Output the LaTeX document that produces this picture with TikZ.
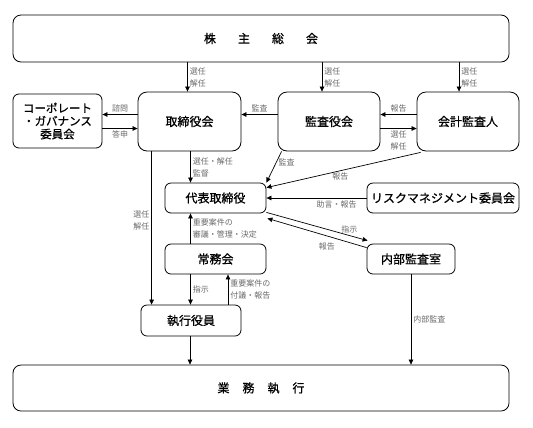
\documentclass[tikz,border=0pt]{standalone}
\usepackage{fontspec}
\usetikzlibrary{arrows.meta,positioning}
\newfontfamily\jpFont{Noto Sans CJK JP}
\newfontfamily\jpBoxFont{Noto Sans CJK JP}[FakeBold=0.8]
\definecolor{labelColor}{RGB}{105,105,105}
\tikzstyle{chart} = [x=1bp, y=-1bp]
\tikzstyle{boxStyle} = [draw, line width=0.8bp, rounded corners=6bp, inner sep=0pt, font=\jpBoxFont\fontsize{12bp}{15bp}\selectfont]
\tikzstyle{wideBox} = [boxStyle, minimum width=496bp, rounded corners=8bp]
\tikzstyle{largeBox} = [boxStyle, minimum width=102bp, minimum height=59bp, rounded corners=9bp]
\tikzstyle{smallBox} = [boxStyle, minimum height=30bp]
\tikzstyle{arrowLine} = [line width=0.7bp, -{Triangle[length=5bp,width=4.5bp]}]
\tikzstyle{labelText} = [text=labelColor, inner sep=2bp, align=left, font=\jpFont\fontsize{8bp}{12bp}\selectfont]
\newcommand{\wideGap}{\hspace{22bp}}
\newcommand{\narrowGap}{\hspace{13bp}}

\begin{document}
\begin{tikzpicture}[chart]
\useasboundingbox (0,0) rectangle (533,427);
\node [wideBox, minimum height=47bp] (shareholders) at (261,38.5) {株\wideGap 主\wideGap 総\wideGap 会};
\node [boxStyle, minimum width=89bp, minimum height=54bp, align=center, font=\jpBoxFont\fontsize{11.5bp}{13bp}\selectfont] (corpGov) at (57.5,121) {コーポレート\\・ガバナンス\\委員会};
\node [largeBox, minimum width=103bp] (board) at (189.5,121.5) {取締役会};
\node [largeBox] (auditBoard) at (329,121.5) {監査役会};
\node [largeBox] (accountant) at (468,121.5) {会計監査人};
\node [smallBox, minimum width=101bp] (president) at (215.5,198) {代表取締役};
\node [smallBox, minimum width=152bp] (riskComm) at (443,198) {リスクマネジメント委員会};
\node [smallBox, minimum width=101bp] (managingBoard) at (215.5,259) {常務会};
\node [smallBox, minimum width=88bp] (internalAudit) at (411,259) {内部監査室};
\node [smallBox, minimum width=100bp, minimum height=31bp] (officers) at (191,320.5) {執行役員};
\node [wideBox, minimum height=46bp] (operations) at (261,388) {業\narrowGap 務\narrowGap 執\narrowGap 行};

\draw [arrowLine] ([xshift=-2bp]board.north |- shareholders.south) -- node [labelText, right] {選任\\解任} ([xshift=-2bp]board.north);
\draw [arrowLine] ([xshift=-7bp]auditBoard.north |- shareholders.south) -- node [labelText, right] {選任\\解任} ([xshift=-7bp]auditBoard.north);
\draw [arrowLine] ([xshift=-9bp]accountant.north |- shareholders.south) -- node [labelText, right] {選任\\解任} ([xshift=-9bp]accountant.north);

\draw [arrowLine] ([yshift=7bp]board.west) -- node [labelText, above] {諮問} ([yshift=7bp]board.west -| corpGov.east);
\draw [arrowLine] ([yshift=-7bp]board.west -| corpGov.east) -- node [labelText, below] {答申} ([yshift=-7bp]board.west);
\draw [arrowLine] ([yshift=7bp]auditBoard.west) -- node [labelText, above] {監査} ([yshift=7bp]auditBoard.west -| board.east);
\draw [arrowLine] ([yshift=7bp]accountant.west) -- node [labelText, above] {報告} ([yshift=7bp]accountant.west -| auditBoard.east);
\draw [arrowLine] ([yshift=-7bp]auditBoard.east) -- node [labelText, below] {選任\\解任} ([yshift=-7bp]auditBoard.east -| accountant.west);

\draw [arrowLine] ([xshift=-25bp]president.north |- board.south) -- node [labelText, right] {選任・解任\\監督} ([xshift=-25bp]president.north);
\draw [arrowLine] ([xshift=4bp]auditBoard.south west) -- node [labelText, pos=0.35, right] {監査} (president.north east);
\draw [arrowLine] ([xshift=4bp,yshift=-1bp]accountant.south west) -- node [labelText, pos=0.52, below] {報告} ([yshift=-5bp]president.north east);
\draw [arrowLine] (riskComm.west) -- node [labelText, pos=0.3, below] {助言・報告} (riskComm.west -| president.east);
\draw [arrowLine] ([yshift=1bp]president.south east) -- node [labelText, pos=0.82, above] {指示} ([xshift=1bp,yshift=3bp]internalAudit.north west);
\draw [arrowLine] ([yshift=-4bp]internalAudit.north west) -- node [labelText, pos=0.4, below, yshift=-4bp] {報告} ([xshift=1bp,yshift=-5bp]president.south east);

\draw [arrowLine, {Triangle[length=5bp,width=4.5bp]}-] ([xshift=-25bp]president.south) -- node [labelText, right] {重要案件の\\審議・管理・決定} ([xshift=-25bp]managingBoard.north);
\draw [arrowLine] ([xshift=-25bp]managingBoard.south) -- node [labelText, right] {指示} ([xshift=-25bp]managingBoard.south |- officers.north);
\draw [arrowLine] ([xshift=37bp]officers.north) -- node [labelText, right] {重要案件の\\付議・報告} ([xshift=37bp]officers.north |- managingBoard.south);
\draw [arrowLine] ([xshift=14bp]board.south west) -- node [labelText, pos=0.45, left] {選任\\解任} ([xshift=14bp]board.south west |- officers.north);
\draw [arrowLine] ([xshift=-1bp]officers.south) -- ([xshift=-1bp]officers.south |- operations.north);
\draw [arrowLine] (internalAudit.south) -- node [labelText, right] {内部監査} (internalAudit.south |- operations.north);
\end{tikzpicture}
\end{document}
